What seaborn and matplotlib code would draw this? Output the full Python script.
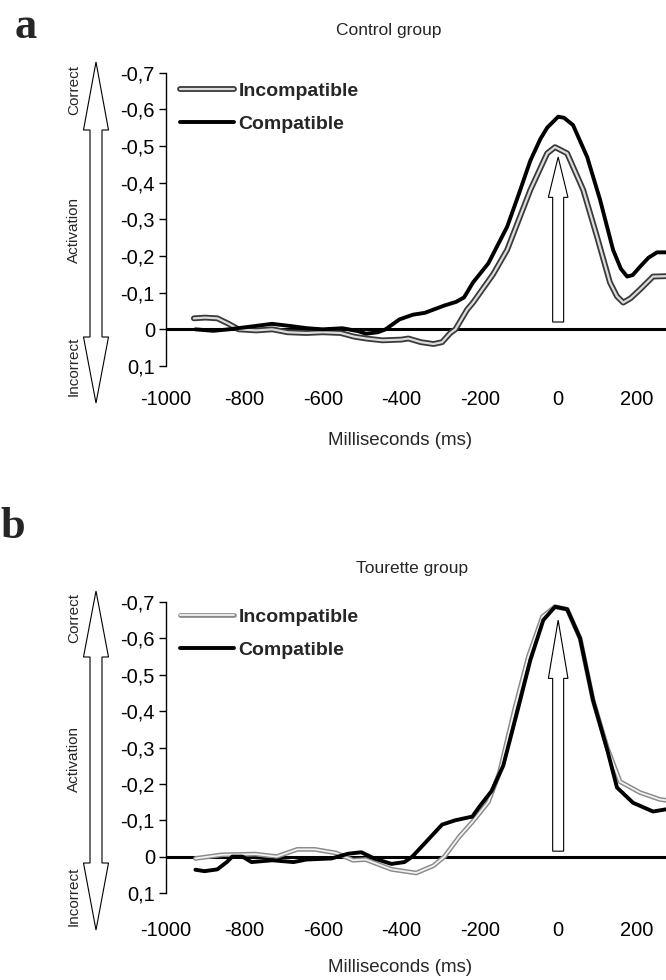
import matplotlib
matplotlib.use("Agg")
import matplotlib.pyplot as plt
from matplotlib.patches import Polygon, FancyArrow
from matplotlib.lines import Line2D
from matplotlib.legend_handler import HandlerTuple
import seaborn as sns
import pandas as pd

# ---------------- data ----------------
panel_titles = ["Control group", "Tourette group"]
panel_letters = ["a", "b"]
series_names = ["Incompatible", "Compatible"]

x_ticks = [-1000, -800, -600, -400, -200, 0, 200]
x_tick_labels = ["-1000", "-800", "-600", "-400", "-200", "0", "200"]
y_ticks = [-0.7, -0.6, -0.5, -0.4, -0.3, -0.2, -0.1, 0.0, 0.1]
y_tick_labels = ["-0,7", "-0,6", "-0,5", "-0,4", "-0,3", "-0,2", "-0,1", "0", "0,1"]
x_label = "Milliseconds (ms)"
side_labels = ["Correct", "Activation", "Incorrect"]

# Control group
ctrl_comp_ms = [-925, -880, -840, -780, -730, -690, -640, -600, -550, -510, -490, -460,
                -440, -405, -370, -340, -290, -260, -240, -217, -178, -130, -100, -71,
                -45, -28, 0, 15, 38, 74, 107, 140, 160, 176, 190, 209, 230, 252, 275]
ctrl_comp_val = [0.0, 0.004, 0.0, -0.008, -0.015, -0.01, -0.003, 0.0, -0.003, 0.005, 0.012, 0.008,
                 0.0, -0.027, -0.04, -0.045, -0.065, -0.075, -0.087, -0.128, -0.18, -0.28, -0.37, -0.46,
                 -0.52, -0.55, -0.58, -0.577, -0.557, -0.47, -0.353, -0.217, -0.165, -0.144, -0.148,
                 -0.171, -0.195, -0.21, -0.21]
ctrl_inc_ms = [-929, -900, -869, -840, -815, -770, -729, -690, -642, -600, -555, -520, -490,
               -448, -400, -382, -350, -318, -296, -275, -262, -232, -217, -166, -130, -100,
               -71, -28, -8, 23, 64, 99, 132, 150, 166, 185, 209, 242, 275]
ctrl_inc_val = [-0.03, -0.032, -0.03, -0.015, 0.0, 0.003, 0.0, 0.008, 0.01, 0.008, 0.01, 0.02, 0.025,
                0.03, 0.028, 0.025, 0.035, 0.04, 0.035, 0.01, 0.0, -0.054, -0.073, -0.15, -0.217, -0.30,
                -0.38, -0.48, -0.497, -0.48, -0.38, -0.253, -0.128, -0.09, -0.073, -0.085, -0.109,
                -0.144, -0.145]

# Tourette group
tour_comp_ms = [-925, -902, -869, -845, -831, -805, -782, -729, -675, -642, -578, -535, -502,
                -469, -425, -392, -372, -339, -296, -262, -219, -199, -170, -140, -104, -71,
                -38, -8, 23, 56, 89, 125, 150, 191, 242, 275]
tour_comp_val = [0.036, 0.04, 0.035, 0.015, 0.0, 0.0, 0.015, 0.01, 0.015, 0.008, 0.005, -0.008, -0.012,
                 0.005, 0.02, 0.015, 0.0, -0.038, -0.088, -0.1, -0.11, -0.14, -0.18, -0.25, -0.40, -0.54,
                 -0.65, -0.687, -0.68, -0.60, -0.43, -0.294, -0.19, -0.148, -0.124, -0.13]
tour_inc_ms = [-925, -857, -772, -718, -665, -621, -566, -523, -491, -425, -362, -318, -290,
               -252, -219, -178, -150, -110, -76, -40, -8, 23, 56, 89, 125, 158, 209, 260, 275]
tour_inc_val = [0.005, -0.005, -0.007, 0.0, -0.02, -0.02, -0.01, 0.01, 0.008, 0.035, 0.045, 0.025, 0.0,
                -0.055, -0.095, -0.15, -0.23, -0.41, -0.55, -0.66, -0.687, -0.68, -0.60, -0.43, -0.3,
                -0.206, -0.176, -0.157, -0.155]

# response-onset arrows (time, tip value)
resp_arrow_ms = [0, 0]
resp_arrow_tip = [-0.47, -0.65]

# ---------------- style ----------------
sns.set_style("white")
plt.rcParams["font.family"] = ["Liberation Sans", "DejaVu Sans"]

W, H = 666, 980
fig = plt.figure(figsize=(W / 100, H / 100), dpi=100)

def fx(px):
    return px / W

def fy(py):
    return 1 - py / H

# pixel layout of each panel
layout = [
    dict(top=72.7, bottom=366, title_x=389, title_y=30, letter_x=15, letter_y=38,
         xlab_y=440, xtick_pad=17, leg_top=82, arrow=(62, 130, 337, 403),
         side_y=(90, 230, 366), inc_outer="#3a3a3a", inc_inner="#dcdcdc", inc_lw=(4.2, 1.6)),
    dict(top=602, bottom=893, title_x=412, title_y=568, letter_x=0, letter_y=538,
         xlab_y=967, xtick_pad=20, leg_top=608, arrow=(591, 657, 863, 930),
         side_y=(618, 759, 896), inc_outer="#8a8a8a", inc_inner="#f2f2f2", inc_lw=(3.4, 1.3)),
]

data = [
    (ctrl_inc_ms, ctrl_inc_val, ctrl_comp_ms, ctrl_comp_val),
    (tour_inc_ms, tour_inc_val, tour_comp_ms, tour_comp_val),
]

left_px = 166
for i, L in enumerate(layout):
    ax = fig.add_axes([fx(left_px), fy(L["bottom"]), 1 - fx(left_px),
                       (L["bottom"] - L["top"]) / H])
    inc_ms, inc_val, comp_ms, comp_val = data[i]
    df_inc = pd.DataFrame({"ms": inc_ms, "act": inc_val})
    df_comp = pd.DataFrame({"ms": comp_ms, "act": comp_val})

    ax.axhline(0, color="black", lw=2.2, zorder=1)
    # incompatible: hollow grey double line
    sns.lineplot(data=df_inc, x="ms", y="act", ax=ax, color=L["inc_outer"],
                 lw=L["inc_lw"][0], sort=False, estimator=None, zorder=2)
    sns.lineplot(data=df_inc, x="ms", y="act", ax=ax, color=L["inc_inner"],
                 lw=L["inc_lw"][1], sort=False, estimator=None, zorder=3)
    # compatible: thick black
    sns.lineplot(data=df_comp, x="ms", y="act", ax=ax, color="black",
                 lw=2.8, sort=False, estimator=None, zorder=4)

    # response arrow at time 0
    tip = resp_arrow_tip[i]
    start = -0.02 if i == 0 else -0.015
    hl = 0.11 if i == 0 else 0.16
    arr = FancyArrow(resp_arrow_ms[i], start, 0, tip - start, width=28, head_width=50,
                     head_length=hl, length_includes_head=True, facecolor="white",
                     edgecolor="black", lw=0.8, zorder=5)
    ax.add_patch(arr)

    ax.set_xlim(-1000, 275)
    ax.set_ylim(0.1, -0.7)
    ax.set_yticks(y_ticks)
    ax.set_yticklabels(y_tick_labels)
    ax.set_xticks(x_ticks)
    ax.set_xticklabels(x_tick_labels)
    ax.set_xlabel("")
    ax.set_ylabel("")
    for s in ["top", "right", "bottom"]:
        ax.spines[s].set_visible(False)
    ax.spines["left"].set_color("black")
    ax.spines["left"].set_linewidth(1.0)
    ax.tick_params(axis="y", left=True, direction="out", length=5, width=1,
                   pad=3, labelsize=14.5, colors="black")
    ax.tick_params(axis="x", bottom=False, length=0, pad=L["xtick_pad"],
                   labelsize=14.5, colors="black")
    ax.patch.set_alpha(0)

    # legend
    h_inc = (Line2D([], [], color=L["inc_outer"], lw=L["inc_lw"][0]),
             Line2D([], [], color=L["inc_inner"], lw=L["inc_lw"][1]))
    h_comp = Line2D([], [], color="black", lw=2.8)
    ax.legend([h_inc, h_comp], series_names,
              handler_map={tuple: HandlerTuple(ndivide=1, pad=0)},
              loc="upper left", bbox_to_anchor=(fx(180), fy(L["leg_top"])),
              bbox_transform=fig.transFigure, frameon=False, borderpad=0,
              borderaxespad=0, handlelength=2.8, handletextpad=0.2,
              labelspacing=0.8, prop={"weight": "bold", "size": 14})

    # title, letter, x label
    fig.text(fx(L["title_x"]), fy(L["title_y"]), panel_titles[i], ha="center",
             va="center", fontsize=12.5)
    fig.text(fx(L["letter_x"]), fy(L["letter_y"]), panel_letters[i], ha="left",
             va="baseline", fontsize=32, fontweight="bold",
             family=["Liberation Serif", "DejaVu Serif"])
    fig.text(fx(400), fy(L["xlab_y"]), x_label, ha="center", va="center", fontsize=13.5)

    # big hollow double arrow on the left
    ty, hb1, hb2, by = L["arrow"]
    cx, hw, sw = 96, 12.5, 6
    pts = [(cx, ty), (cx + hw, hb1), (cx + sw, hb1), (cx + sw, hb2), (cx + hw, hb2),
           (cx, by), (cx - hw, hb2), (cx - sw, hb2), (cx - sw, hb1), (cx - hw, hb1)]
    poly = Polygon([(fx(px), fy(py)) for px, py in pts], closed=True,
                   transform=fig.transFigure, facecolor="white", edgecolor="black", lw=0.8)
    fig.patches.append(poly)
    for lab, yy in zip(side_labels, L["side_y"]):
        fig.text(fx(74), fy(yy), lab, rotation=90, ha="center", va="center", fontsize=11)

fig.savefig("out.png", dpi=100)
